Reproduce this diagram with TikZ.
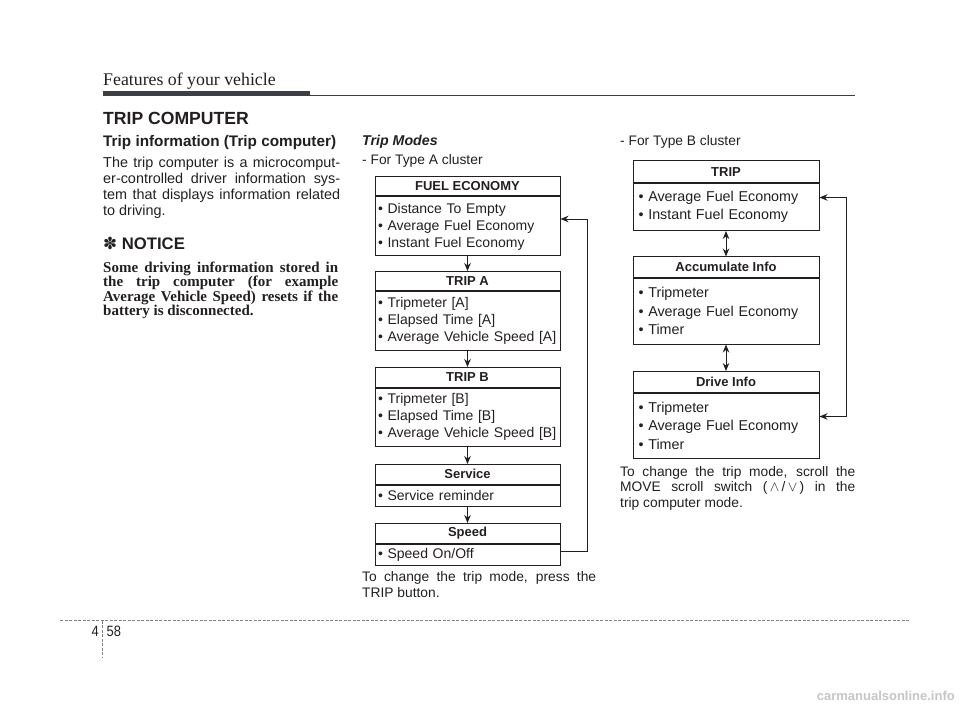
\documentclass[tikz,border=0pt]{standalone}
\usepackage{fontspec}
\setmainfont{Liberation Sans}
\newfontfamily\timesfont{Liberation Serif}
\newfontfamily\dejavufont{DejaVu Sans}
\newfontfamily\narrowfont{Liberation Sans}[FakeStretch=0.86]
\usepackage{xcolor}
\usetikzlibrary{arrows.meta}
\usetikzlibrary{positioning}

\definecolor{ink}{HTML}{231F20}
\definecolor{barcol}{HTML}{3C3F43}
\definecolor{dashgray}{HTML}{808080}

% one justified line of a column
\newcommand{\jl}[2][237pt]{\makebox[#1][s]{#2}}

\tikzset{
  headA/.style={draw, line width=1pt, font=\bfseries\fontsize{13}{13}\selectfont,
    minimum width=185pt, minimum height=19.5pt, inner sep=0pt, anchor=north},
  headB/.style={headA, minimum width=186pt, minimum height=20.5pt},
  itemsA/.style={draw, line width=1pt, font=\fontsize{14}{17}\selectfont,
    text width=179pt, inner xsep=3pt, inner ysep=1pt, align=left},
  itemsB/.style={itemsA, font=\fontsize{14.3}{18.6}\selectfont,
    text width=175pt, inner xsep=5.5pt},
  flow/.style={-{Stealth[length=8pt,width=6.5pt]}, line width=0.9pt},
  both/.style={{Stealth[length=8pt,width=6.5pt]}-{Stealth[length=8pt,width=6.5pt]}, line width=0.9pt},
  para/.style={anchor=base west, inner sep=0pt, align=left},
}

\begin{document}
\begin{tikzpicture}[x=1pt, y=-1pt, color=ink]
    \useasboundingbox (0,0) rectangle (960,708);

    % page head
    \node[para, font=\timesfont\fontsize{17.8}{17.8}\selectfont] (chapter) at (103,86) {Features of your vehicle};
    \fill[barcol] (103,90.7) rectangle (309.5,95.6);
    \draw[barcol, line width=1.3pt] (309,95.2) -- (855,95.2);

    % left column (multi-line texts sit on their last line)
    \node[para, font=\bfseries\fontsize{17.6}{17.6}\selectfont] (title) at (103,125) {TRIP COMPUTER};
    \node[para, font=\bfseries\fontsize{15.3}{15.3}\selectfont] (subtitle) at (103,147) {Trip information (Trip computer)};
    \node[para, font=\fontsize{14.4}{16.3}\selectfont] (intro) at (103,216)
        {\jl{The trip computer is a microcomput-}\\
         \jl{er-controlled driver information sys-}\\
         \jl{tem that displays information related}\\
         to driving.};
    \node[para, font=\bfseries\fontsize{16.7}{16.7}\selectfont] (notice) at (103,250) {{\dejavufont ✽} NOTICE};
    \node[para, font=\timesfont\bfseries\fontsize{15}{14.5}\selectfont] (noticetext) at (103,316)
        {\jl[235pt]{Some driving information stored in}\\
         \jl[235pt]{the trip computer (for example}\\
         \jl[235pt]{Average Vehicle Speed) resets if the}\\
         battery is disconnected.};

    % type A cluster
    \node[para, font=\bfseries\itshape\fontsize{14.2}{14.2}\selectfont] (modes) at (362,146) {Trip Modes};
    \node[para, font=\fontsize{13.8}{13.8}\selectfont] (typeA) at (362,165) {- For Type A cluster};

    \node[headA] (fuelhead) at (467.5,176) {FUEL ECONOMY};
    \node[itemsA, below=0pt of fuelhead, minimum height=59pt] (fuel)
        {• Distance To Empty\\• Average Fuel Economy\\• Instant Fuel Economy};
    \node[headA] (tripAhead) at (467.5,271) {TRIP A};
    \node[itemsA, below=0pt of tripAhead, minimum height=58pt] (tripA)
        {• Tripmeter [A]\\• Elapsed Time [A]\\• Average Vehicle Speed [A]};
    \node[headA] (tripBhead) at (467.5,367) {TRIP B};
    \node[itemsA, below=0pt of tripBhead, minimum height=58.5pt] (tripB)
        {• Tripmeter [B]\\• Elapsed Time [B]\\• Average Vehicle Speed [B]};
    \node[headA] (servicehead) at (467.5,464) {Service};
    \node[itemsA, below=0pt of servicehead, minimum height=21.5pt] (service) {• Service reminder};
    \node[headA] (speedhead) at (467.5,523) {Speed};
    \node[itemsA, below=0pt of speedhead, minimum height=21.5pt] (speed) {• Speed On/Off};

    \draw[flow] (fuel.south) -- (tripAhead.north);
    \draw[flow] (tripA.south) -- (tripBhead.north);
    \draw[flow] (tripB.south) -- (servicehead.north);
    \draw[flow] (service.south) -- (speedhead.north);
    \coordinate (loopA) at (587.5,219);
    \draw[flow] ([yshift=3.5pt]speed.east) -| (loopA) -- (loopA -| fuel.east);

    \node[para, font=\fontsize{13.8}{16}\selectfont] (captionA) at (362,597)
        {\jl[234pt]{To change the trip mode, press the}\\
         TRIP button.};

    % type B cluster
    \node[para, font=\fontsize{13.8}{13.8}\selectfont] (typeB) at (620,146) {- For Type B cluster};

    \node[headB, minimum height=21.5pt] (triphead) at (726,160.5) {TRIP};
    \node[itemsB, below=0pt of triphead, minimum height=47pt] (trip)
        {• Average Fuel Economy\\• Instant Fuel Economy};
    \node[headB] (accumhead) at (726,256.5) {Accumulate Info};
    \node[itemsB, below=0pt of accumhead, minimum height=65.5pt] (accum)
        {• Tripmeter\\• Average Fuel Economy\\• Timer};
    \node[headB] (drivehead) at (726,371) {Drive Info};
    \node[itemsB, below=0pt of drivehead, minimum height=65pt] (drive)
        {• Tripmeter\\• Average Fuel Economy\\• Timer};

    \draw[both] (trip.south) -- (accumhead.north);
    \draw[both] (accum.south) -- (drivehead.north);
    \coordinate (loopB) at (846,197.5);
    \draw[both] (loopB -| trip.east) -- (loopB) |- ([yshift=9pt]drive.east);

    \node[para, font=\fontsize{13.8}{15.5}\selectfont] (captionB) at (620,507)
        {\jl[235pt]{To change the trip mode, scroll the}\\
         \jl[235pt]{MOVE scroll switch (\,$\wedge$\,/\,$\vee$\,) in the}\\
         trip computer mode.};

    % page foot
    \draw[dashgray, line width=1.2pt, dash pattern=on 3pt off 1.5pt] (60,620.7) -- (910,620.7);
    \draw[dashgray, line width=1.2pt, dash pattern=on 3pt off 1.5pt] (102.7,620.7) -- (102.7,658);
    \node[anchor=base east, inner sep=0pt, font=\narrowfont\fontsize{15}{15}\selectfont] (chapno) at (99,636) {4};
    \node[anchor=base west, inner sep=0pt, font=\narrowfont\fontsize{15}{15}\selectfont] (pageno) at (106.5,636) {58};
    \node[anchor=base east, inner sep=0pt, text=gray!45, font=\bfseries\fontsize{13}{13}\selectfont] (mark) at (955,700) {carmanualsonline.info};
\end{tikzpicture}
\end{document}
